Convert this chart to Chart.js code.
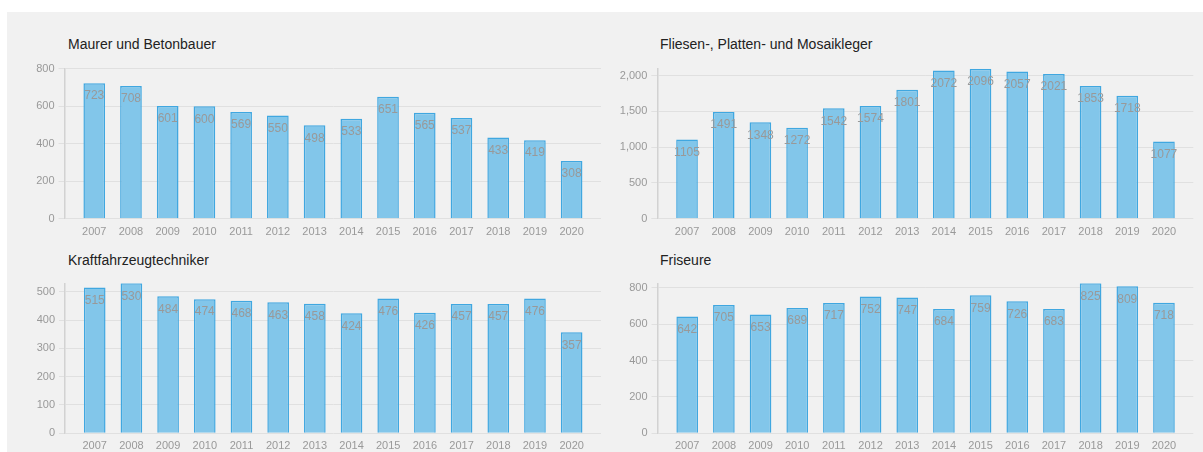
<!DOCTYPE html>
<html>
<head>
<meta charset="utf-8">
<script src="https://cdn.jsdelivr.net/npm/chart.js@4"></script>
<style>
  body { margin: 0; background: #fff; width: 1203px; height: 452px; overflow: hidden; position: relative; font-family: "Liberation Sans", Arial, sans-serif; }
  #bg { position: absolute; left: 7px; top: 12px; right: 0; bottom: 0; background: #f1f1f1; }
  .titel { position: absolute; font-size: 14px; line-height: 14px; color: #222; white-space: nowrap; }
  canvas { position: absolute; }
</style>
</head>
<body>
<div id="bg"></div>
<div class="titel" style="left:68px; top:36.7px">Maurer und Betonbauer</div>
<div class="titel" style="left:660px; top:36.7px">Fliesen-, Platten- und Mosaikleger</div>
<div class="titel" style="left:68px; top:252.8px">Kraftfahrzeugtechniker</div>
<div class="titel" style="left:660px; top:252.8px">Friseure</div>
<canvas id="c1"></canvas>
<canvas id="c2"></canvas>
<canvas id="c3"></canvas>
<canvas id="c4"></canvas>
<script>
// Daten
const jahre = ['2007','2008','2009','2010','2011','2012','2013','2014','2015','2016','2017','2018','2019','2020'];
const maurer = [723, 708, 601, 600, 569, 550, 498, 533, 651, 565, 537, 433, 419, 308];
const fliesenleger = [1105, 1491, 1348, 1272, 1542, 1574, 1801, 2072, 2096, 2057, 2021, 1853, 1718, 1077];
const kfz = [515, 530, 484, 474, 468, 463, 458, 424, 476, 426, 457, 457, 476, 357];
const friseure = [642, 705, 653, 689, 717, 752, 747, 684, 759, 726, 683, 825, 809, 718];
const yMax = [800, 2096, 530, 825];
const ySchritt = [200, 500, 100, 200];

const schrift = '"Liberation Sans", Arial, sans-serif';

// Werte oben in den Balken
const wertLabels = {
    id: 'wertLabels',
    afterDatasetsDraw(chart) {
        const ctx = chart.ctx;
        const meta = chart.getDatasetMeta(0);
        ctx.save();
        ctx.font = '12px ' + schrift;
        ctx.fillStyle = '#999';
        ctx.textAlign = 'center';
        ctx.textBaseline = 'middle';
        meta.data.forEach((bar, i) => {
            ctx.fillText(chart.data.datasets[0].data[i].y, bar.x, bar.y + 13);
        });
        ctx.restore();
    }
};

function baueDiagramm(id, werte, max, schritt, area) {
    const canvas = document.getElementById(id);
    const left = Math.floor(area.left - 58);
    const top = Math.floor(area.top - 14);
    const width = Math.ceil(area.right - left + 4);
    const height = Math.ceil(area.bottom - top + 27);
    canvas.width = width;
    canvas.height = height;
    canvas.style.left = left + 'px';
    canvas.style.top = top + 'px';
    canvas.style.width = width + 'px';
    canvas.style.height = height + 'px';

    return new Chart(canvas.getContext('2d'), {
        type: 'bar',
        data: {
            datasets: [{
                data: werte.map((v, i) => ({ x: i, y: v })),
                backgroundColor: '#82c6ea',
                borderColor: '#40a7e0',
                borderWidth: 1.5,
                categoryPercentage: 1,
                barPercentage: 0.59
            }]
        },
        options: {
            responsive: false,
            animation: false,
            locale: 'en-US',
            layout: {
                padding: { left: 0, top: area.top - top, right: left + width - area.right, bottom: 0 }
            },
            plugins: {
                legend: { display: false },
                tooltip: { enabled: false }
            },
            scales: {
                x: {
                    type: 'linear',
                    offset: false,
                    min: -0.81,
                    max: 13.8,
                    grid: { display: false, drawTicks: false },
                    border: { display: false },
                    afterBuildTicks: s => { s.ticks = jahre.map((j, i) => ({ value: i })); },
                    afterFit: s => { s.height = top + height - area.bottom; },
                    ticks: {
                        autoSkip: false,
                        maxRotation: 0,
                        padding: 6.5,
                        color: '#999',
                        font: { size: 11, family: schrift },
                        callback: v => jahre[Math.round(v)]
                    }
                },
                y: {
                    min: 0,
                    max: max,
                    afterBuildTicks: s => {
                        const t = [];
                        for (let v = 0; v <= max; v += schritt) t.push({ value: v });
                        s.ticks = t;
                    },
                    afterFit: s => { s.width = area.left - left; },
                    grid: { color: '#e0e0e0', tickColor: '#e0e0e0', tickLength: 6 },
                    border: { color: '#d2d2d2', width: 1.5 },
                    ticks: {
                        padding: 4,
                        color: '#999',
                        font: { size: 11, family: schrift }
                    }
                }
            }
        },
        plugins: [wertLabels]
    });
}

baueDiagramm('c1', maurer, yMax[0], ySchritt[0], { left: 64.5, top: 68.7, right: 601, bottom: 218.7 });
baueDiagramm('c2', fliesenleger, yMax[1], ySchritt[1], { left: 657.3, top: 68.7, right: 1193.3, bottom: 218.7 });
baueDiagramm('c3', kfz, yMax[2], ySchritt[2], { left: 65, top: 283.3, right: 601, bottom: 433.3 });
baueDiagramm('c4', friseure, yMax[3], ySchritt[3], { left: 657.5, top: 283.3, right: 1193.3, bottom: 433.3 });
</script>
</body>
</html>
